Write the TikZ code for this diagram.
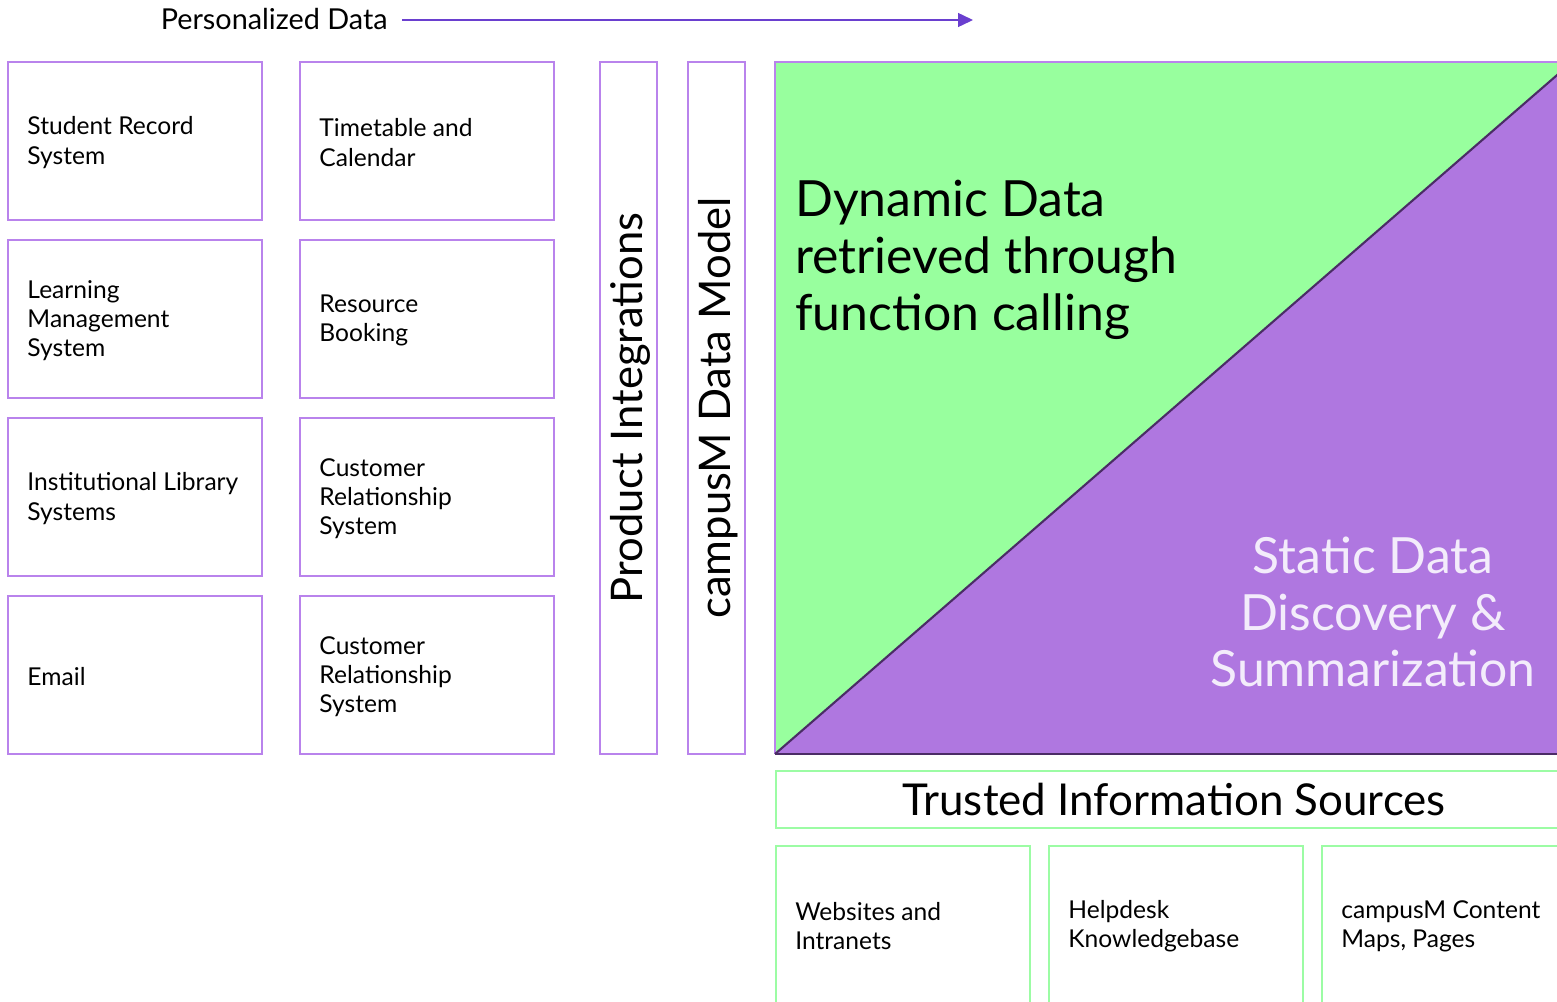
\documentclass[tikz,border=0pt]{standalone}
\usepackage{fontspec}
\setmainfont{Lato}
\usetikzlibrary{arrows.meta}

\definecolor{boxpurple}{HTML}{B983EC}
\definecolor{greenfill}{HTML}{98FF9E}
\definecolor{purplefill}{HTML}{AF77E0}
\definecolor{darkline}{HTML}{4B2C66}
\definecolor{greenline}{HTML}{9CFCA4}
\definecolor{arrowcol}{HTML}{6A3FCF}
\definecolor{statictext}{HTML}{F3ECFB}

\begin{document}
\begin{tikzpicture}[x=0.02cm, y=-0.02cm,
    sysbox/.style={draw=boxpurple, line width=1pt, minimum width=5.08cm, minimum height=3.16cm, inner sep=0pt},
    srcbox/.style={draw=greenline, line width=1pt, minimum width=5.08cm, minimum height=3.3cm, inner sep=0pt},
    bar/.style={draw=boxpurple, line width=1pt, minimum width=1.14cm, minimum height=13.84cm, inner sep=0pt},
    boxtext/.style={anchor=west, align=left, inner sep=0pt, font=\fontsize{14}{16.6}\selectfont},
    bartext/.style={rotate=90, inner sep=0pt, font=\fontsize{24.8}{28}\selectfont},
    bigtext/.style={align=left, inner sep=0pt, font=\fontsize{28.4}{32.3}\selectfont}]
    \useasboundingbox (0,0) rectangle (1557,1001);

    % Dati personalizzati
    \node[inner xsep=0.28cm, inner ysep=0pt, anchor=east, font=\fontsize{16.4}{19}\selectfont] (pdata) at (402,19) {Personalized Data};
    \coordinate (pend) at (973,20);
    \draw[arrowcol, line width=0.8pt, -{Triangle[length=0.3cm,width=0.28cm]}] (pdata.east |- pend) -- (pend);

    % Sistemi
    \node[sysbox] (srs) at (135,141) {};
    \node[sysbox] (lms) at (135,319) {};
    \node[sysbox] (lib) at (135,497) {};
    \node[sysbox] (mail) at (135,675) {};
    \node[sysbox] (tt) at (427,141) {};
    \node[sysbox] (rb) at (427,319) {};
    \node[sysbox] (crm) at (427,497) {};
    \node[sysbox] (crmb) at (427,675) {};

    \node[boxtext] at ([xshift=0.4cm,yshift=-0.03cm]srs.west) {Student Record\\System};
    \node[boxtext] at ([xshift=0.4cm,yshift=-0.03cm]lms.west) {Learning\\Management\\System};
    \node[boxtext] at ([xshift=0.4cm,yshift=-0.03cm]lib.west) {Institutional Library\\Systems};
    \node[boxtext] at ([xshift=0.4cm,yshift=-0.03cm]mail.west) {Email};
    \node[boxtext] at ([xshift=0.4cm,yshift=-0.03cm]tt.west) {Timetable and\\Calendar};
    \node[boxtext] at ([xshift=0.4cm,yshift=-0.03cm]rb.west) {Resource\\Booking};
    \node[boxtext] at ([xshift=0.4cm,yshift=-0.03cm]crm.west) {Customer\\Relationship\\System};
    \node[boxtext] at ([xshift=0.4cm,yshift=-0.03cm]crmb.west) {Customer\\Relationship\\System};

    % Barre
    \node[bar] (prod) at (628.5,408) {};
    \node[bar] (model) at (716.5,408) {};
    \node[bartext] at ([xshift=0.04cm]prod.center) {Product Integrations};
    \node[bartext] at ([xshift=0.04cm]model.center) {campusM Data Model};

    % Quadrato dinamico / statico
    \fill[greenfill] (775,62) rectangle (1560,754);
    \fill[purplefill] (775,754) -- (1560,754) -- (1560,72.5) -- cycle;
    \draw[boxpurple, line width=1pt] (775,754) -- (775,62) -- (1560,62);
    \draw[darkline, line width=1.2pt] (1560,72.5) -- (775,754);
    \draw[darkline, line width=1.6pt] (775,754) -- (1560,754);
    \node[bigtext, anchor=north west] (dyn) at (795,180) {Dynamic Data\\retrieved through\\function calling};
    \node[bigtext, align=center, text=statictext] (stat) at (1373,612) {Static Data\\Discovery \&\\Summarization};

    % Fonti
    \node[draw=greenline, line width=1pt, minimum width=15.8cm, minimum height=1.14cm, anchor=north west, inner sep=0pt] (trust) at (775,770) {};
    \node[font=\fontsize{25}{30}\selectfont, inner sep=0pt] at (1174,799) {Trusted Information Sources};
    \node[srcbox, anchor=north west] (web) at (775,845) {};
    \node[srcbox, anchor=north west] (help) at (1048,845) {};
    \node[srcbox, anchor=north west] (cont) at (1321,845) {};
    \node[boxtext] at (795,926) {Websites and\\Intranets};
    \node[boxtext] at (1068,926) {Helpdesk\\Knowledgebase};
    \node[boxtext] at (1341,926) {campusM Content\\Maps, Pages};
\end{tikzpicture}
\end{document}
